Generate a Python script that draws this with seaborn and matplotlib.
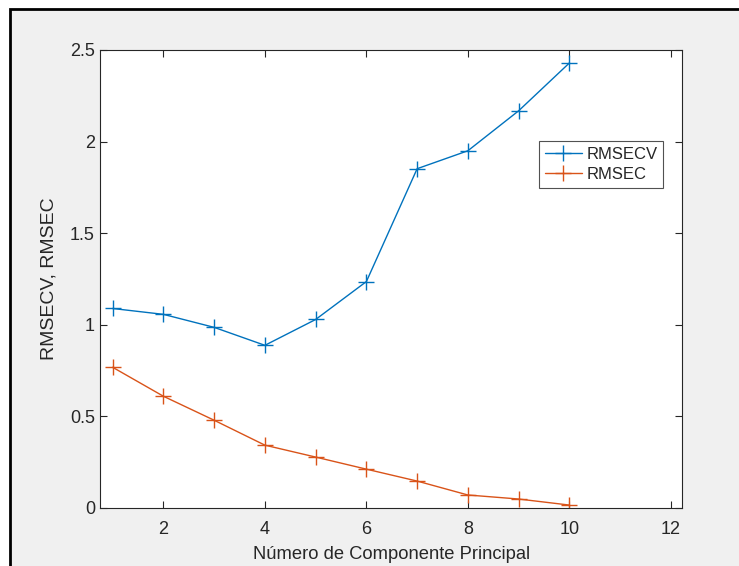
import matplotlib
matplotlib.use("Agg")
import matplotlib.pyplot as plt
from matplotlib.patches import Rectangle
import seaborn as sns
import pandas as pd

# Number of principal components and the two error curves
components = [1, 2, 3, 4, 5, 6, 7, 8, 9, 10]
rmsecv = [1.089, 1.057, 0.986, 0.888, 1.029, 1.236, 1.852, 1.950, 2.168, 2.429]
rmsec = [0.768, 0.610, 0.479, 0.343, 0.278, 0.212, 0.147, 0.071, 0.049, 0.016]
series_names = ["RMSECV", "RMSEC"]
x_ticks = [2, 4, 6, 8, 10, 12]
y_ticks = [0, 0.5, 1, 1.5, 2, 2.5]
y_tick_labels = ["0", "0.5", "1", "1.5", "2", "2.5"]

df = pd.concat([
    pd.DataFrame({"comp": components, "value": rmsecv, "serie": series_names[0]}),
    pd.DataFrame({"comp": components, "value": rmsec, "serie": series_names[1]}),
])

sns.set_theme(style="white")
plt.rcParams["font.family"] = ["Liberation Sans", "DejaVu Sans"]

fig = plt.figure(figsize=(7.39, 5.66), dpi=100)
fig.patch.set_facecolor("white")
# grey figure panel with a dark frame, kept behind the axes
fig.patches.append(Rectangle((10 / 739, -0.05), 1.2, 1 - 9 / 566 + 0.05,
                             transform=fig.transFigure, facecolor="#f0f0f0",
                             edgecolor="black", linewidth=2.0, zorder=-10))

ax = fig.add_axes([100.5 / 739, 1 - 508 / 566, (682 - 100.5) / 739, (508 - 50) / 566])
ax.set_zorder(5)
ax.set_facecolor("white")

palette = {"RMSECV": "#0072BD", "RMSEC": "#D95319"}
for name in series_names:
    sub = df[df["serie"] == name]
    sns.lineplot(data=sub, x="comp", y="value", ax=ax, color=palette[name],
                 marker="+", markersize=12, markeredgewidth=1.0,
                 markeredgecolor=palette[name], linewidth=1.0, label=name)

ax.set_xlim(0.76, 12.22)
ax.set_ylim(0, 2.5)
ax.set_xticks(x_ticks)
ax.set_yticks(y_ticks)
ax.set_yticklabels(y_tick_labels)
ax.tick_params(axis="both", direction="in", length=5, width=0.8, color="#262626",
               labelsize=13, labelcolor="#262626", top=True, right=True, pad=4,
               bottom=True, left=True)
ax.tick_params(axis="x", pad=9)
for sp in ax.spines.values():
    sp.set_color("#262626")
    sp.set_linewidth(0.8)

ax.set_xlabel("Número de Componente Principal", fontsize=13.2, color="#262626", labelpad=6)
ax.set_ylabel("RMSECV, RMSEC", fontsize=14, color="#262626", labelpad=9)

leg = ax.legend(loc="upper left", bbox_to_anchor=((539 - 100.5) / 581.5, 1 - (141 - 50) / 458),
                frameon=True, fancybox=False, fontsize=12, handlelength=2.2,
                borderpad=0.35, labelspacing=0.3, handletextpad=0.3, borderaxespad=0)
leg.get_frame().set_edgecolor("#262626")
leg.get_frame().set_linewidth(0.8)

fig.savefig("out.png", dpi=100, facecolor=fig.get_facecolor())
